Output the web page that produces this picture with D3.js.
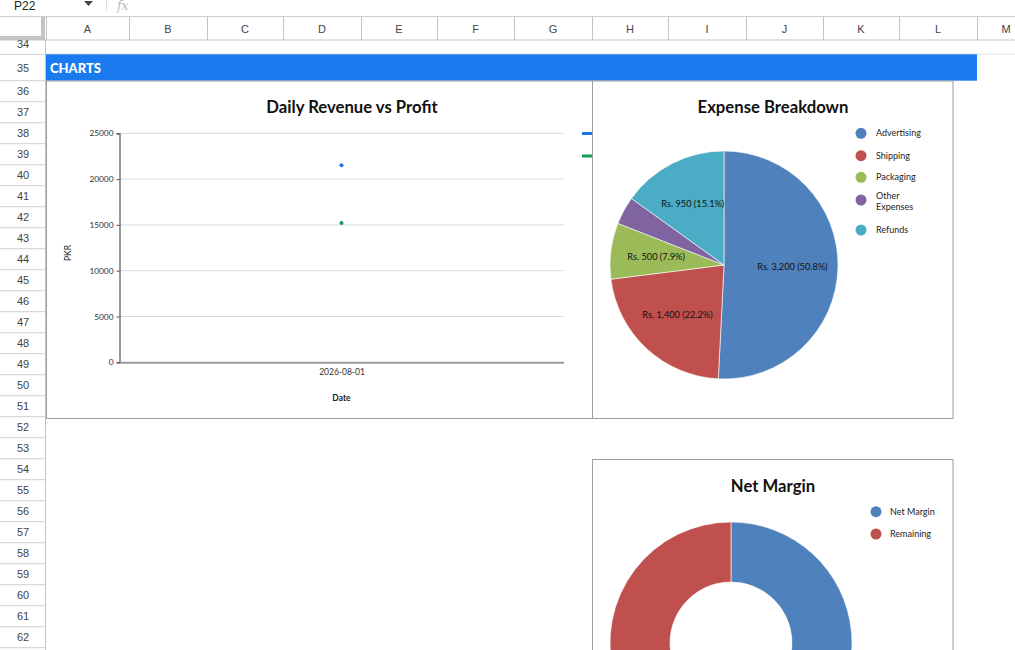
<!DOCTYPE html>
<html><head><meta charset="utf-8">
<script src="https://cdn.jsdelivr.net/npm/d3@7/dist/d3.min.js"></script>
<style>
html,body{margin:0;padding:0;background:#fff;overflow:hidden}
svg{display:block}
</style></head>
<body>
<svg id="c" width="1015" height="650"></svg>
<script>
// ---------- data ----------
const columnLetters = ["A","B","C","D","E","F","G","H","I","J","K","L","M"];
const columnEdges = [46,129,207,283,361,437,514,592,668,746,823,899,977,1035];
const rowNumbers = [34,35,36,37,38,39,40,41,42,43,44,45,46,47,48,49,50,51,52,53,54,55,56,57,58,59,60,61,62];

const dates = ["2026-08-01"];
const revenueValues = [21500];
const profitValues = [15200];
const yTicks = [0,5000,10000,15000,20000,25000];

const expenseCategories = ["Advertising","Shipping","Packaging","Other Expenses","Refunds"];
const expenseValues = [3200,1400,500,250,950];
const expenseColors = ["#4f81bd","#c0504d","#9bbb59","#8064a2","#4bacc6"];

const marginCategories = ["Net Margin","Remaining"];
const marginValues = [70.7,29.3];
const marginColors = ["#4f81bd","#c0504d"];

// ---------- drawing ----------
const svg = d3.select("#c");
const uiFont = "'Liberation Sans', Arial, sans-serif";
const chFont = "Lato, 'Open Sans', sans-serif";

// formula bar
svg.append("text").attr("x",14).attr("y",10).attr("font-family",uiFont).attr("font-size",12).attr("fill","#222").text("P22");
svg.append("path").attr("d","M84,1 L93,1 L88.5,6 Z").attr("fill","#444");
svg.append("line").attr("x1",106.5).attr("x2",106.5).attr("y1",0).attr("y2",10).attr("stroke","#ddd");
svg.append("text").attr("x",117).attr("y",10).attr("font-family","'DejaVu Serif',serif").attr("font-style","italic").attr("font-size",12).attr("fill","#bbb").text("fx");
svg.append("line").attr("x1",0).attr("x2",1015).attr("y1",16.5).attr("y2",16.5).attr("stroke","#d0d0d0");

// column header
svg.append("rect").attr("x",0).attr("y",17).attr("width",1015).attr("height",23).attr("fill","#fff");
svg.append("line").attr("x1",0).attr("x2",1015).attr("y1",40).attr("y2",40).attr("stroke","#c4c4c4");
columnLetters.forEach((c,i)=>{
  const x0 = columnEdges[i], x1 = columnEdges[i+1];
  svg.append("line").attr("x1",x0+0.5).attr("x2",x0+0.5).attr("y1",17).attr("y2",40).attr("stroke","#c4c4c4");
  svg.append("text").attr("x",(x0+x1)/2).attr("y",32.5).attr("text-anchor","middle")
    .attr("font-family",uiFont).attr("font-size",11).attr("fill","#444").text(c);
});
// corner frozen divider
svg.append("rect").attr("x",0).attr("y",36).attr("width",44).attr("height",4).attr("fill","#c4c4c4");
svg.append("rect").attr("x",41).attr("y",17).attr("width",4).attr("height",23).attr("fill","#c4c4c4");

// row header
const rowTop = n => n===34 ? 40 : (n===35 ? 54.3 : 80.7 + (n-36)*21);
const rowBot = n => n===34 ? 54.3 : (n===35 ? 80.7 : 80.7 + (n-35)*21);
svg.append("line").attr("x1",45.5).attr("x2",45.5).attr("y1",40).attr("y2",650).attr("stroke","#c4c4c4");
rowNumbers.forEach(n=>{
  const t=rowTop(n), b=rowBot(n);
  svg.append("line").attr("x1",0).attr("x2",45).attr("y1",b).attr("y2",b).attr("stroke","#d0d0d0");
  svg.append("text").attr("x",23).attr("y",n===34? 48 : (t+b)/2+4).attr("text-anchor","middle")
    .attr("font-family",uiFont).attr("font-size",11).attr("fill","#444").text(n);
});
svg.append("line").attr("x1",46).attr("x2",1015).attr("y1",54).attr("y2",54).attr("stroke","#e2e2e2");

// header bar
svg.append("rect").attr("x",46).attr("y",54.3).attr("width",931).attr("height",26.4).attr("fill","#1a7bf1");
svg.append("text").attr("x",50).attr("y",72.5).attr("font-family",chFont).attr("font-weight","900").attr("font-size",13).attr("fill","#fff").text("CHARTS");

// ---------- chart 1 ----------
const c1 = svg.append("g");
c1.append("rect").attr("x",46.5).attr("y",81).attr("width",560).attr("height",337.5).attr("fill","#fff").attr("stroke","#9e9e9e");
c1.append("text").attr("x",352).attr("y",113).attr("text-anchor","middle").attr("font-family",chFont).attr("font-weight","bold").attr("font-size",16.7).attr("fill","#111").text("Daily Revenue vs Profit");

const x = d3.scalePoint().domain(dates).range([119.5,563.5]).padding(0.5);
const y = d3.scaleLinear().domain([0,25000]).range([362.3,133.3]);

c1.append("g").selectAll("line").data(yTicks.filter(d=>d>0)).join("line")
  .attr("x1",119.5).attr("x2",563.5).attr("y1",d=>y(d)).attr("y2",d=>y(d)).attr("stroke","#d9d9d9").attr("stroke-width",1);
const ya = c1.append("g").attr("transform","translate(119.5,0)")
  .call(d3.axisLeft(y).tickValues(yTicks).tickFormat(d3.format("d")).tickSize(3));
ya.select(".domain").attr("stroke","#555").attr("stroke-width",1.2);
ya.selectAll(".tick line").attr("stroke","#555");
ya.selectAll("text").attr("font-family",chFont).attr("font-size",8.3).attr("fill","#333").attr("x",-6);

const xa = c1.append("g").attr("transform","translate(0,362.3)")
  .call(d3.axisBottom(x).tickSize(0).tickSizeOuter(0));
xa.select(".domain").attr("stroke","#999").attr("stroke-width",2);
xa.selectAll("text").attr("font-family",chFont).attr("font-size",8.5).attr("fill","#333").attr("dy","1.1em");

c1.append("text").attr("transform","translate(71,253) rotate(-90)").attr("text-anchor","middle")
  .attr("font-family",chFont).attr("font-size",8.5).attr("fill","#222").text("PKR");
c1.append("text").attr("x",341.5).attr("y",401).attr("text-anchor","middle")
  .attr("font-family",chFont).attr("font-weight","bold").attr("font-size",8.5).attr("fill","#222").text("Date");

c1.selectAll(".rev").data(revenueValues).join("circle").attr("class","rev")
  .attr("cx",(d,i)=>x(dates[i])).attr("cy",d=>y(d)).attr("r",2).attr("fill","#1a73e8");
c1.selectAll(".pro").data(profitValues).join("circle").attr("class","pro")
  .attr("cx",(d,i)=>x(dates[i])).attr("cy",d=>y(d)).attr("r",2).attr("fill","#0f9d58");
// legend (partly hidden)
c1.append("line").attr("x1",582).attr("x2",600).attr("y1",133.5).attr("y2",133.5).attr("stroke","#1a73e8").attr("stroke-width",3);
c1.append("line").attr("x1",582).attr("x2",600).attr("y1",156).attr("y2",156).attr("stroke","#0f9d58").attr("stroke-width",3);

// ---------- chart 2 ----------
const c2 = svg.append("g");
c2.append("rect").attr("x",592.5).attr("y",81).attr("width",360.5).attr("height",337.5).attr("fill","#fff").attr("stroke","#9e9e9e");
c2.append("text").attr("x",773).attr("y",113).attr("text-anchor","middle").attr("font-family",chFont).attr("font-weight","bold").attr("font-size",16.7).attr("fill","#111").text("Expense Breakdown");

const total = d3.sum(expenseValues);
const pie = d3.pie().sort(null).value(d=>d);
const arcs = pie(expenseValues);
const R = 114;
const arc = d3.arc().innerRadius(0).outerRadius(R);
const labelArc = d3.arc().innerRadius(R*0.6).outerRadius(R*0.6);
const pg = c2.append("g").attr("transform","translate(724,265)");
pg.selectAll("path").data(arcs).join("path").attr("d",arc).attr("fill",(d,i)=>expenseColors[i]).attr("stroke","#fff").attr("stroke-width",0.6);
const fmt = d3.format(",");
pg.selectAll("text").data(arcs).join("text")
  .filter(d=>d.data/total>0.05)
  .attr("transform",d=>`translate(${labelArc.centroid(d)})`).attr("text-anchor","middle").attr("dy","0.35em")
  .attr("font-family",chFont).attr("font-size",9.2).attr("fill","#111")
  .text(d=>`Rs. ${fmt(d.data)} (${(d.data/total*100).toFixed(1)}%)`);

const legY2 = [133.3,155.7,177.3,200,230];
expenseCategories.forEach((c,i)=>{
  c2.append("circle").attr("cx",861).attr("cy",legY2[i]).attr("r",5.5).attr("fill",expenseColors[i]);
  const t = c2.append("text").attr("x",876).attr("y",legY2[i]+3).attr("font-family",chFont).attr("font-size",9).attr("fill","#222");
  if(c==="Other Expenses"){
    t.attr("y",legY2[i]-1);
    t.append("tspan").attr("x",876).text("Other");
    t.append("tspan").attr("x",876).attr("dy",10.5).text("Expenses");
  } else t.text(c);
});

// ---------- chart 3 ----------
const c3 = svg.append("g");
c3.append("rect").attr("x",592.5).attr("y",459.5).attr("width",360.5).attr("height",260).attr("fill","#fff").attr("stroke","#9e9e9e");
c3.append("text").attr("x",773).attr("y",492).attr("text-anchor","middle").attr("font-family",chFont).attr("font-weight","bold").attr("font-size",16.7).attr("fill","#111").text("Net Margin");
const darc = d3.arc().innerRadius(61).outerRadius(121);
const dg = c3.append("g").attr("transform","translate(731,643)");
dg.selectAll("path").data(pie(marginValues)).join("path").attr("d",darc).attr("fill",(d,i)=>marginColors[i]).attr("stroke","#fff").attr("stroke-width",0.6);
const legY3 = [511.7,534];
marginCategories.forEach((c,i)=>{
  c3.append("circle").attr("cx",876).attr("cy",legY3[i]).attr("r",5.5).attr("fill",marginColors[i]);
  c3.append("text").attr("x",890).attr("y",legY3[i]+3).attr("font-family",chFont).attr("font-size",9).attr("fill","#222").text(c);
});
</script>
</body></html>
